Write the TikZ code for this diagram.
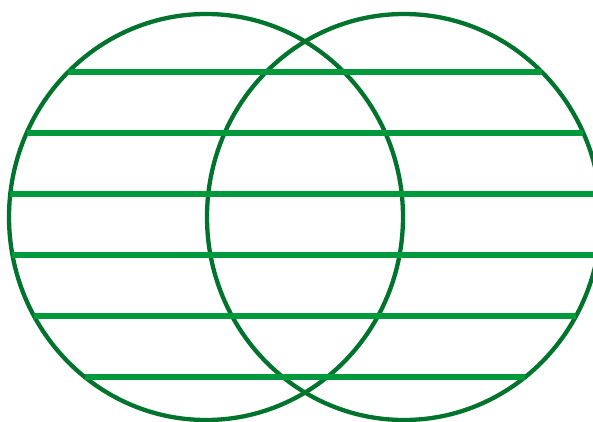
\documentclass[tikz,border=0pt]{standalone}
\usepackage{tikz}
\definecolor{ringgreen}{RGB}{0,116,44}
\definecolor{bargreen}{RGB}{0,154,60}

\begin{document}
\begin{tikzpicture}[x=1pt,y=-1pt]
\useasboundingbox (0,0) rectangle (593,422);
\coordinate (lc) at (206,217);
\coordinate (rc) at (404,217);
\draw[ringgreen, line width=4.3pt] (lc) ellipse [x radius=197pt, y radius=203pt];
\draw[ringgreen, line width=4.3pt] (rc) ellipse [x radius=197pt, y radius=203pt];
% hatching, each bar ends on the outer rims
\foreach \y in {72,133,194,255,316,377} {
  \pgfmathsetmacro{\dx}{197*sqrt(1-((\y-217)/203)^2)}
  \draw[bargreen, line width=5.5pt] ({206-\dx},\y) -- ({404+\dx},\y);
}
\end{tikzpicture}
\end{document}
